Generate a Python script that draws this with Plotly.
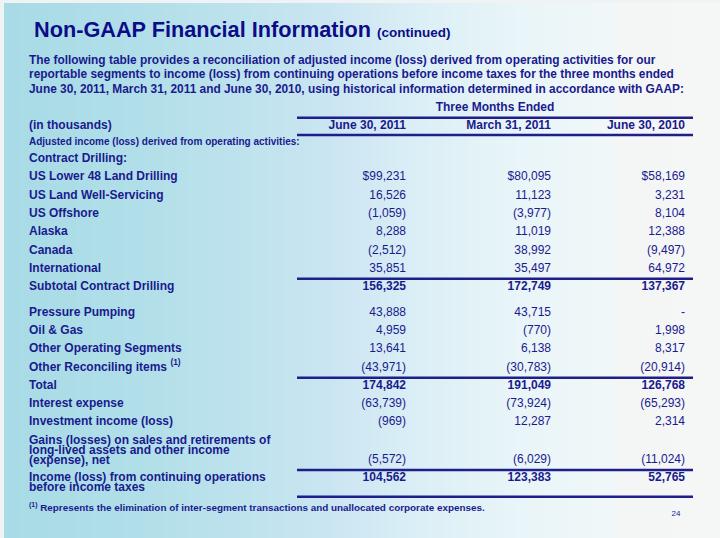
import plotly.graph_objects as go

# ---------------- data ----------------
title_text = "Non-GAAP Financial Information"
title_suffix = "(continued)"
intro_lines = [
    "The following table provides a reconciliation of adjusted income (loss) derived from operating activities for our",
    "reportable segments to income (loss) from continuing operations before income taxes for the three months ended",
    "June 30, 2011, March 31, 2011 and June 30, 2010, using historical information determined in accordance with GAAP:",
]
group_header = "Three Months Ended"
unit_label = "(in thousands)"
columns = ["June 30, 2011", "March 31, 2011", "June 30, 2010"]
section_label = "Adjusted income (loss) derived from operating activities:"
subsection_label = "Contract Drilling:"

row_labels = [
    "US Lower 48 Land Drilling",
    "US Land Well-Servicing",
    "US Offshore",
    "Alaska",
    "Canada",
    "International",
    "Subtotal Contract Drilling",
    "Pressure Pumping",
    "Oil & Gas",
    "Other Operating Segments",
    "Other Reconciling items <sup>(1)</sup>",
    "Total",
    "Interest expense",
    "Investment income (loss)",
    "Gains (losses) on sales and retirements of\nlong-lived assets and other income\n(expense), net",
    "Income (loss) from continuing operations\nbefore income taxes",
]
june_30_2011 = [99231, 16526, -1059, 8288, -2512, 35851, 156325, 43888, 4959, 13641,
                -43971, 174842, -63739, -969, -5572, 104562]
march_31_2011 = [80095, 11123, -3977, 11019, 38992, 35497, 172749, 43715, -770, 6138,
                 -30783, 191049, -73924, 12287, -6029, 123383]
june_30_2010 = [58169, 3231, 8104, 12388, -9497, 64972, 137367, None, 1998, 8317,
                -20914, 126768, -65293, 2314, -11024, 52765]
bold_rows = ["Subtotal Contract Drilling", "Total",
             "Income (loss) from continuing operations\nbefore income taxes"]
dollar_rows = ["US Lower 48 Land Drilling"]
footnote = "Represents the elimination of inter-segment transactions and unallocated corporate expenses."
page_number = "24"

# ---------------- layout constants ----------------
W, H = 720, 538
FONT = "Liberation Sans, Arial, Helvetica, sans-serif"
NAVY = "#1a1a8e"
TITLE_NAVY = "#0c0c88"
LINE = "#1f1f8c"
LABEL_X = 29
COL_RIGHT = [406, 551, 685]
LINE_X = (297, 693)
ROW_Y = [177.3, 195.7, 214.0, 232.3, 250.5, 268.8, 286.9,
         313.3, 331.3, 349.4, 367.5, 386.0, 404.3, 422.4, 460.3, 477.7]
LABEL_TOP_Y = {14: 440.7, 15: 477.7}
LINE_STEP = 10.0
RULE_Y = [117.7, 135.0, 278.8, 377.7, 470.0, 496.7]


def fmt(v, dollar=False):
    if v is None:
        return "-"
    s = f"{abs(v):,}"
    if dollar:
        s = "$" + s
    return f"({s})" if v < 0 else s


fig = go.Figure()

# background gradient (style only)
stops = [(0, (167, 219, 230)), (150, (178, 223, 233)), (280, (195, 228, 239)),
         (330, (202, 229, 242)), (420, (219, 239, 246)), (520, (233, 245, 248)),
         (612, (240, 247, 248)), (620, (244, 246, 246)), (720, (245, 246, 246))]


def col_at(x):
    for (x0, c0), (x1, c1) in zip(stops[:-1], stops[1:]):
        if x0 <= x <= x1:
            t = (x - x0) / (x1 - x0)
            return "rgb(%d,%d,%d)" % tuple(round(a + (b - a) * t) for a, b in zip(c0, c1))
    return "rgb(245,246,246)"


shapes = []
step = 4
for x in range(0, W, step):
    shapes.append(dict(type="rect", xref="x", yref="y", x0=x, x1=x + step + 0.5, y0=0, y1=H,
                       fillcolor=col_at(x + step / 2), line_width=0, layer="below"))
shapes.append(dict(type="rect", xref="x", yref="y", x0=0, x1=W, y0=0, y1=3,
                   fillcolor="rgb(240,243,243)", line_width=0, layer="below"))
shapes.append(dict(type="rect", xref="x", yref="y", x0=0, x1=4, y0=0, y1=H,
                   fillcolor="rgb(240,243,243)", line_width=0, layer="below"))
for y in RULE_Y:
    shapes.append(dict(type="line", xref="x", yref="y", x0=LINE_X[0], x1=LINE_X[1], y0=y, y1=y,
                       line=dict(color=LINE, width=2.6)))


def text_trace(xs, ys, texts, pos, size=12, color=NAVY):
    fig.add_trace(go.Scatter(x=xs, y=ys, text=texts, mode="text", textposition=pos,
                             textfont=dict(family=FONT, size=size, color=color),
                             hoverinfo="skip", showlegend=False, cliponaxis=False))


# title
text_trace([34], [31.5],
           [f"<b>{title_text}</b> <b><span style='font-size:13.5px'>{title_suffix}</span></b>"],
           "middle right", size=21.7, color=TITLE_NAVY)
# intro paragraph
text_trace([LABEL_X] * 3, [61, 75.5, 90], [f"<b>{t}</b>" for t in intro_lines], "middle right",
           size=11.9)
# headers
text_trace([495], [108.3], [f"<b>{group_header}</b>"], "middle center")
text_trace([LABEL_X], [126], [f"<b>{unit_label}</b>"], "middle right")
text_trace(COL_RIGHT, [126] * 3, [f"<b>{c}</b>" for c in columns], "middle left")
text_trace([LABEL_X], [142.7], [f"<b>{section_label}</b>"], "middle right", size=10)
text_trace([LABEL_X], [159], [f"<b>{subsection_label}</b>"], "middle right")

# row labels
lx, ly, lt = [], [], []
for i, lab in enumerate(row_labels):
    parts = lab.split("\n")
    y0 = LABEL_TOP_Y.get(i, ROW_Y[i])
    for k, p in enumerate(parts):
        lx.append(LABEL_X)
        ly.append(y0 + k * LINE_STEP)
        lt.append(f"<b>{p}</b>")
text_trace(lx, ly, lt, "middle right")

# values
for ci, series in enumerate([june_30_2011, march_31_2011, june_30_2010]):
    xs, ys, ts = [], [], []
    for i, v in enumerate(series):
        s = fmt(v, row_labels[i] in dollar_rows)
        if row_labels[i] in bold_rows:
            s = f"<b>{s}</b>"
        xs.append(COL_RIGHT[ci])
        ys.append(ROW_Y[i])
        ts.append(s)
    text_trace(xs, ys, ts, "middle left")

# footnote and page number
text_trace([LABEL_X], [509], [f"<b><sup>(1)</sup> {footnote}</b>"], "middle right", size=9.9)
text_trace([676], [514], [page_number], "middle center", size=8)

fig.update_layout(
    width=W, height=H, margin=dict(l=0, r=0, t=0, b=0),
    paper_bgcolor="white", plot_bgcolor="white",
    xaxis=dict(range=[0, W], visible=False, fixedrange=True),
    yaxis=dict(range=[H, 0], visible=False, fixedrange=True),
    shapes=shapes, showlegend=False,
)
fig.write_html(
    "out.html",
    config={"displayModeBar": False},
    post_script="document.body.style.margin='0';document.body.style.overflow='hidden';",
)
